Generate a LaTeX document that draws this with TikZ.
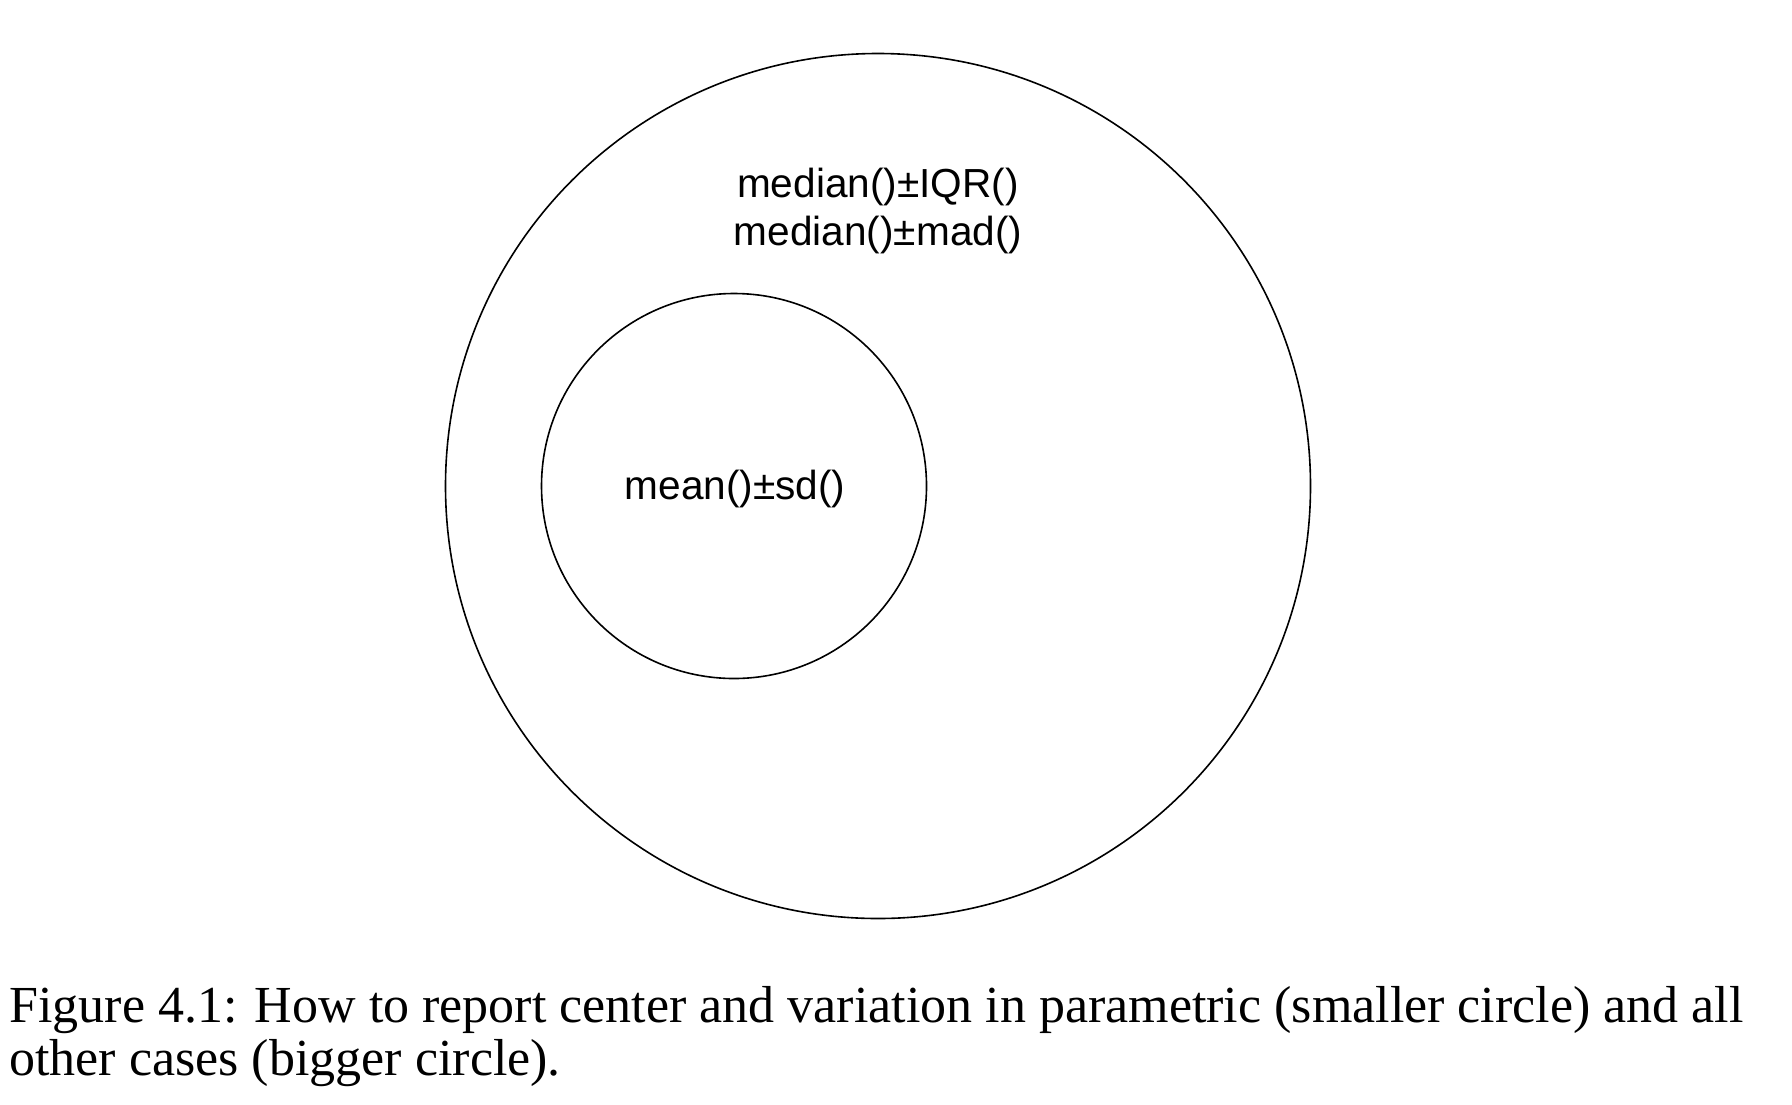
\documentclass[tikz,border=0pt]{standalone}
\usepackage{fontspec}
\setmainfont{Liberation Serif}
\setsansfont{Liberation Sans}
\begin{document}
\begin{tikzpicture}[x=0.5pt,y=-0.5pt,
  ring/.style={circle,draw=black,line width=0.8pt,minimum size=#1,inner sep=0pt},
  lab/.style={font=\sffamily\fontsize{20.3}{24}\selectfont,inner sep=0pt,align=center},
  captext/.style={font=\fontsize{26}{29}\selectfont,inner sep=0pt,anchor=base west}]
\useasboundingbox (0,0) rectangle (1792,1104);
\node[ring=432.5pt] (big) at (878,486) {};
\node[ring=192.5pt] (small) at (734,486) {};
\node[lab] (l1) at (878,187) {median()±IQR()};
\node[lab] (l2) at (878,235) {median()±mad()};
\node[lab] (l3) at (735,489) {mean()±sd()};
\node[captext] (c1) at (9,1022) {Figure 4.1: How to report center and variation in parametric (smaller circle) and all};
\node[captext] (c2) at (9,1075) {other cases (bigger circle).};
\end{tikzpicture}
\end{document}
